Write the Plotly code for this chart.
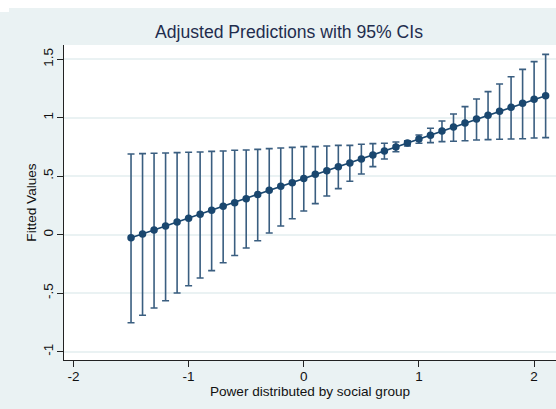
import plotly.graph_objects as go

# Data
x_vals = [-1.5, -1.4, -1.3, -1.2, -1.1, -1.0, -0.9, -0.8, -0.7, -0.6, -0.5, -0.4,
          -0.3, -0.2, -0.1, 0.0, 0.1, 0.2, 0.3, 0.4, 0.5, 0.6, 0.7, 0.8, 0.9, 1.0,
          1.1, 1.2, 1.3, 1.4, 1.5, 1.6, 1.7, 1.8, 1.9, 2.0, 2.1]
fitted = [-0.025, 0.006, 0.041, 0.075, 0.109, 0.140, 0.174, 0.209, 0.243, 0.274,
          0.308, 0.343, 0.380, 0.414, 0.445, 0.481, 0.516, 0.548, 0.582, 0.613,
          0.648, 0.682, 0.716, 0.750, 0.784, 0.819, 0.850, 0.887, 0.921, 0.955,
          0.990, 1.021, 1.055, 1.089, 1.124, 1.158, 1.189]
upper = [0.690, 0.693, 0.696, 0.699, 0.702, 0.705, 0.707, 0.713, 0.716, 0.722,
         0.724, 0.730, 0.736, 0.742, 0.747, 0.753, 0.753, 0.759, 0.764, 0.764,
         0.773, 0.779, 0.782, 0.793, 0.804, 0.853, 0.910, 0.972, 1.032, 1.095,
         1.160, 1.223, 1.289, 1.351, 1.414, 1.480, 1.542]
lower = [-0.752, -0.689, -0.626, -0.564, -0.498, -0.436, -0.370, -0.307, -0.240,
         -0.177, -0.113, -0.051, 0.015, 0.075, 0.137, 0.203, 0.266, 0.331, 0.394,
         0.457, 0.519, 0.582, 0.648, 0.710, 0.759, 0.782, 0.787, 0.796, 0.799,
         0.804, 0.810, 0.813, 0.816, 0.819, 0.821, 0.827, 0.830]

x_ticks = [-2, -1, 0, 1, 2]
x_tick_text = ["-2", "-1", "0", "1", "2"]
y_ticks = [-1, -0.5, 0, 0.5, 1, 1.5]
y_tick_text = ["-1", "-.5", "0", ".5", "1", "1.5"]

BG = "#eaf2f3"
NAVY = "#1a476f"
BAR = "#3a5e80"
FONT = "Liberation Sans, Arial, sans-serif"

err_plus = [u - f for u, f in zip(upper, fitted)]
err_minus = [f - l for f, l in zip(fitted, lower)]

fig = go.Figure()
fig.add_trace(go.Scatter(
    x=x_vals, y=fitted, mode="lines+markers",
    line=dict(color=NAVY, width=1.6),
    marker=dict(color=NAVY, size=7.5),
    error_y=dict(type="data", symmetric=False, array=err_plus, arrayminus=err_minus,
                 color=BAR, thickness=1.6, width=3.5),
    showlegend=False,
))

W, H = 556, 409
ml, mr, mt, mb = 64, 0, 45, 49
pw, ph = W - ml - mr, H - mt - mb

def px_x(p):
    return (p - ml) / pw

def px_y(p):
    return (H - mb - p) / ph

shapes = [
    dict(type="rect", xref="paper", yref="paper", x0=px_x(-5), x1=px_x(W + 5),
         y0=px_y(8), y1=px_y(-5), fillcolor="white", line=dict(width=0), layer="below"),
    dict(type="rect", xref="paper", yref="paper", x0=px_x(-5), x1=px_x(9),
         y0=px_y(12), y1=px_y(8), fillcolor="white", line=dict(width=0), layer="below"),
]

fig.update_layout(
    width=W, height=H,
    margin=dict(l=ml, r=mr, t=mt, b=mb),
    paper_bgcolor=BG, plot_bgcolor="white",
    font=dict(family=FONT, color="#111111", size=13.5),
    title=dict(text="Adjusted Predictions with 95% CIs", x=289 / W, xanchor="center",
               y=1 - 32 / H, yanchor="middle",
               font=dict(family=FONT, size=17.6, color="#1f2d4e")),
    shapes=shapes,
    xaxis=dict(range=[-2.082, 2.190], tickvals=x_ticks, ticktext=x_tick_text,
               showgrid=False, zeroline=False, showline=True, linecolor="#222222",
               linewidth=1, ticks="outside", ticklen=6, tickcolor="#222222",
               ticklabelstandoff=-2,
               tickfont=dict(size=13.5, color="#111111"),
               title=dict(text="Power distributed by social group", standoff=2,
                          font=dict(size=13.6, color="#111111"))),
    yaxis=dict(range=[-1.071, 1.622], tickvals=y_ticks, ticktext=y_tick_text,
               showgrid=True, gridcolor=BG, gridwidth=1.5, zeroline=False,
               showline=True, linecolor="#222222", linewidth=1, ticks="outside",
               ticklen=6, tickcolor="#222222", tickangle=-90,
               ticklabelstandoff=-1,
               tickfont=dict(size=13.5, color="#111111"),
               title=dict(text="Fitted Values", standoff=0,
                          font=dict(size=13.6, color="#111111"))),
)

fig.write_html("out.html")
